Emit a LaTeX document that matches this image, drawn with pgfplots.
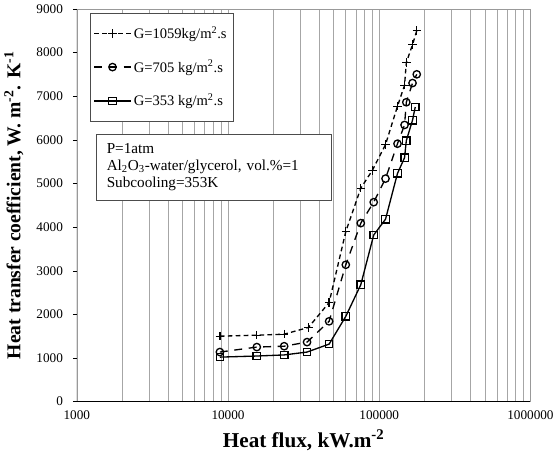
\documentclass[border=0pt]{standalone}
\usepackage{fontspec}
\setmainfont{Liberation Serif}
\usepackage{pgfplots}
\pgfplotsset{compat=1.18}

\begin{document}
\begin{tikzpicture}
\begin{axis}[
  width=343pt, height=297pt, scale only axis,
  xmode=log, log basis x=10,
  xmin=1000, xmax=1000000, ymin=0, ymax=9000,
  xtick={1000,10000,100000,1000000},
  xticklabels={1000,10000,100000,1000000},
  minor xtick={2000,3000,4000,5000,6000,7000,8000,9000,
    20000,30000,40000,50000,60000,70000,80000,90000,
    200000,300000,400000,500000,600000,700000,800000,900000},
  ytick={0,1000,...,9000},
  /pgf/number format/assume math mode=true,
  yticklabel style={/pgf/number format/1000 sep={}, xshift=-4pt},
  tick label style={font=\fontsize{10}{12}\selectfont},
  xmajorgrids, xminorgrids,
  major grid style={black!35, line width=0.5pt},
  minor grid style={black!35, line width=0.5pt},
  axis line style={black!40},
  xtick style={draw=none}, minor x tick style={draw=none},
  ytick style={black}, ytick pos=left, tick align=outside,
  major tick length=3pt,
  xlabel={\textbf{Heat flux, kW.m\textsuperscript{-2}}},
  ylabel={\textbf{Heat transfer coefficient, W. m\textsuperscript{-2}. K\textsuperscript{-1}}},
  xlabel style={font=\fontsize{16}{18}\selectfont, yshift=-1pt},
  ylabel style={font=\fontsize{14.8}{17}\selectfont, yshift=3pt},
  legend style={at={(0.028,0.99)}, anchor=north west, draw=black!70,
    font=\fontsize{11}{13}\selectfont, row sep=11pt,
    inner xsep=3pt, inner ysep=8pt},
  legend cell align=left,
  legend image code/.code={
    \draw[mark repeat=2,mark phase=2,#1] plot coordinates {(0cm,0cm) (0.48cm,0cm) (0.96cm,0cm)};},
]
\addplot[black, line width=1pt, dash pattern=on 3.5pt off 2.5pt, mark=+, mark size=3.2pt, mark options={solid}]
coordinates {(8830,1500)(15500,1523)(23500,1545)(34000,1700)(46600,2270)(60100,3900)(75500,4890)(90000,5300)(110000,5890)(132000,6770)(147000,7250)(151000,7770)(166000,8180)(177000,8500)};
\addlegendentry{G=1059kg/m\textsuperscript{2}.s\hspace{14pt}}
\addplot[black, line width=1pt, dash pattern=on 6pt off 5pt, mark=o, mark size=2.8pt, mark options={solid}]
coordinates {(8830,1136)(15500,1250)(23500,1270)(33300,1364)(46600,1840)(60100,3136)(75500,4090)(91900,4570)(110000,5110)(132000,5910)(147000,6340)(151000,6860)(166000,7300)(177000,7500)};
\addlegendentry{G=705 kg/m\textsuperscript{2}.s}
\addplot[black, line width=1pt, mark=square, mark size=2.8pt]
coordinates {(8830,1020)(15500,1045)(23500,1070)(33300,1136)(46600,1318)(60100,1955)(75500,2680)(91900,3818)(110000,4180)(132000,5230)(147000,5590)(151000,5980)(166000,6450)(173000,6750)};
\addlegendentry{G=353 kg/m\textsuperscript{2}.s}
\draw[black, line width=0.7pt] (rel axis cs:0,1) -- (rel axis cs:0,0) -- (rel axis cs:1,0);
\node[draw=black!70, fill=white, anchor=north west, align=left, text width=162pt,
  font=\fontsize{11.5}{13}\selectfont, inner xsep=8pt, inner ysep=7pt]
  at (rel axis cs:0.042,0.682)
  {P=1atm\\Al\textsubscript{2}O\textsubscript{3}-water/glycerol, vol.\%=1\\Subcooling=353K};
\end{axis}
\end{tikzpicture}
\end{document}
